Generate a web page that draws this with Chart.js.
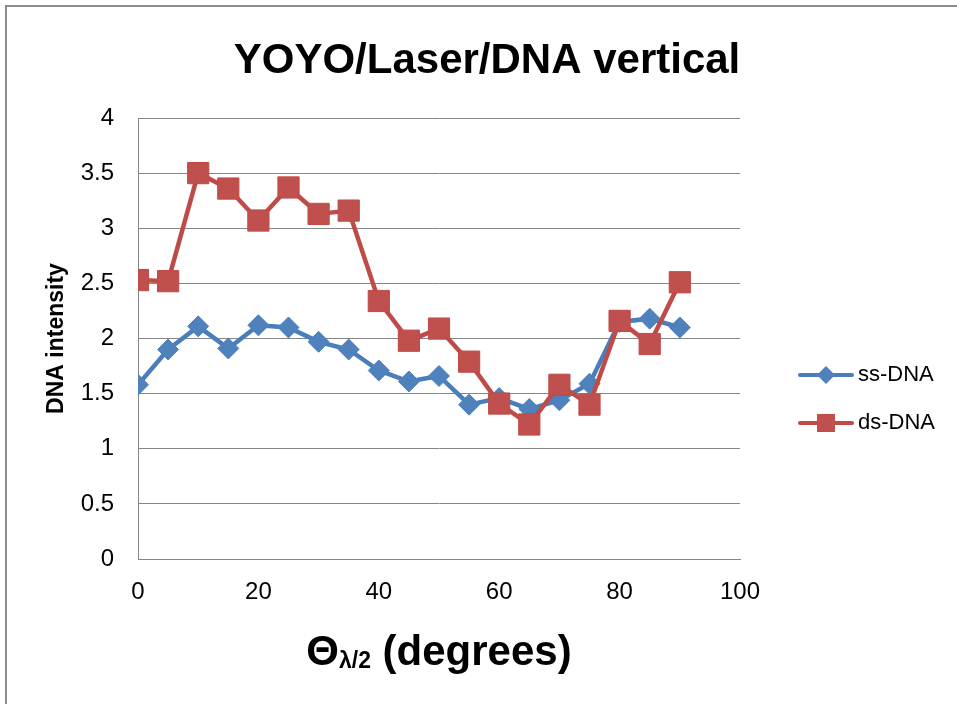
<!DOCTYPE html>
<html>
<head>
<meta charset="utf-8">
<script src="https://cdn.jsdelivr.net/npm/chart.js@4.4.0/dist/chart.umd.min.js"></script>
<style>
  html, body { margin: 0; padding: 0; background: #fff; }
  #frame { position: absolute; left: 5px; top: 5px; width: 1200px; height: 1200px; border: 2px solid #8c8c8c; }
  #chart { position: absolute; left: 0; top: 0; }
</style>
</head>
<body>
<div id="frame"></div>
<canvas id="chart" width="957" height="704"></canvas>
<script>
// half-wave plate angle (degrees)
const angles = [0, 5, 10, 15, 20, 25, 30, 35, 40, 45, 50, 55, 60, 65, 70, 75, 80, 85, 90];
const ssDNA = [1.58, 1.90, 2.11, 1.91, 2.12, 2.10, 1.97, 1.90, 1.71, 1.61, 1.66, 1.40, 1.46, 1.36, 1.44, 1.59, 2.15, 2.18, 2.10];
const dsDNA = [2.53, 2.52, 3.50, 3.36, 3.07, 3.37, 3.13, 3.16, 2.34, 1.98, 2.09, 1.79, 1.41, 1.22, 1.58, 1.40, 2.16, 1.95, 2.51];

const titleText = 'YOYO/Laser/DNA vertical';
const yTitle = 'DNA intensity';
const xTitle = ['\u0398', '\u03bb/2', ' (degrees)'];

const FONT = '"Liberation Sans", Arial, sans-serif';
const GRID = '#868686';

function toPoints(ys) {
	return angles.map((a, i) => ({ x: a, y: ys[i] }));
}

// title, x axis title with subscript, and the line+marker legend
const extras = {
	id: 'extras',
	afterDraw(chart) {
		const ctx = chart.ctx;
		const area = chart.chartArea;
		ctx.save();
		ctx.fillStyle = '#000';
		ctx.textBaseline = 'alphabetic';

		// title
		ctx.font = 'bold 42px ' + FONT;
		ctx.textAlign = 'center';
		ctx.fillText(titleText, 487, 73);

		// x axis title: Θ + subscript λ/2 + (degrees)
		ctx.textAlign = 'left';
		const big = 'bold 42px ' + FONT;
		const small = 'bold 23px ' + FONT;
		ctx.font = big;
		const w0 = ctx.measureText(xTitle[0]).width;
		const w2 = ctx.measureText(xTitle[2]).width;
		ctx.font = small;
		const w1 = ctx.measureText(xTitle[1]).width;
		let x = (area.left + area.right) / 2 - (w0 + w1 + w2) / 2;
		const base = 665;
		ctx.font = big;
		ctx.fillText(xTitle[0], x, base);
		x += w0;
		ctx.font = small;
		ctx.fillText(xTitle[1], x, base + 3);
		x += w1;
		ctx.font = big;
		ctx.fillText(xTitle[2], x, base);

		// legend
		chart.data.datasets.forEach((ds, i) => {
			const y = area.top + 257 + i * 48;
			const x0 = area.right + 60;
			const x1 = x0 + 52;
			const cx = (x0 + x1) / 2;
			ctx.strokeStyle = ds.borderColor;
			ctx.lineWidth = 4;
			ctx.lineCap = 'round';
			ctx.beginPath();
			ctx.moveTo(x0, y);
			ctx.lineTo(x1, y);
			ctx.stroke();
			ctx.fillStyle = ds.pointBackgroundColor;
			ctx.beginPath();
			if (ds.pointStyle === 'rectRot') {
				const r = 9;
				ctx.moveTo(cx - r, y);
				ctx.lineTo(cx, y - r);
				ctx.lineTo(cx + r, y);
				ctx.lineTo(cx, y + r);
				ctx.closePath();
			} else {
				const s = 9;
				ctx.rect(cx - s, y - s, 2 * s, 2 * s);
			}
			ctx.fill();
			ctx.fillStyle = '#000';
			ctx.font = '22px ' + FONT;
			ctx.textBaseline = 'middle';
			ctx.fillText(ds.label, x1 + 6, y);
		});
		ctx.restore();
	}
};

new Chart(document.getElementById('chart'), {
	type: 'line',
	data: {
		datasets: [
			{
				label: 'ss-DNA',
				data: toPoints(ssDNA),
				borderColor: '#4A7EBB',
				backgroundColor: '#4F81BD',
				pointBackgroundColor: '#4F81BD',
				pointBorderColor: '#4F81BD',
				pointStyle: 'rectRot',
				pointRadius: 10.5,
				pointBorderWidth: 1,
				borderWidth: 4.5,
				tension: 0,
				order: 1
			},
			{
				label: 'ds-DNA',
				data: toPoints(dsDNA),
				borderColor: '#BE4B48',
				backgroundColor: '#C0504D',
				pointBackgroundColor: '#C0504D',
				pointBorderColor: '#BE4B48',
				pointStyle: 'rect',
				pointRadius: 15,
				pointBorderWidth: 1,
				borderWidth: 4.5,
				tension: 0,
				order: 0
			}
		]
	},
	options: {
		responsive: false,
		animation: false,
		layout: { padding: { left: 0, right: 217, top: 118, bottom: 0 } },
		plugins: {
			legend: { display: false },
			title: { display: false },
			tooltip: { enabled: false }
		},
		scales: {
			x: {
				type: 'linear',
				min: 0,
				max: 100,
				ticks: { stepSize: 20, padding: 19, color: '#000', font: { family: FONT, size: 24 } },
				grid: { display: false, drawTicks: false },
				border: { display: true, color: GRID, width: 1 },
				afterFit: (scale) => { scale.height = 145; }
			},
			y: {
				min: 0,
				max: 4,
				ticks: {
					stepSize: 0.5,
					padding: 24,
					color: '#000',
					font: { family: FONT, size: 24 },
					callback: (v) => String(v)
				},
				grid: { color: GRID, lineWidth: 1, drawTicks: false },
				border: { display: true, color: GRID, width: 1 },
				title: {
					display: true,
					text: yTitle,
					color: '#000',
					font: { family: FONT, size: 23, weight: 'bold' },
					padding: { top: 43, bottom: 0 }
				},
				afterFit: (scale) => { scale.width = 138; }
			}
		}
	},
	plugins: [extras]
});
</script>
</body>
</html>
